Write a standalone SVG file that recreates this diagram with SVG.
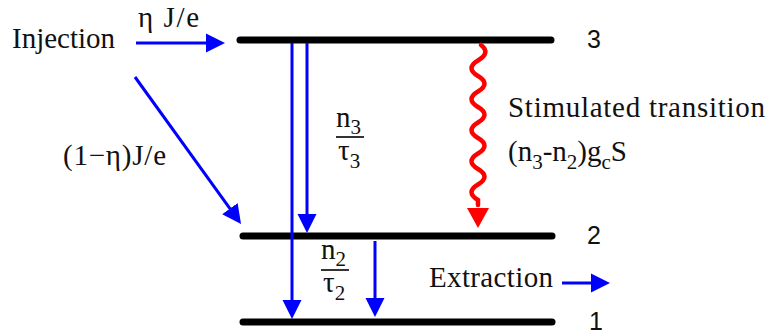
<svg xmlns="http://www.w3.org/2000/svg" width="769" height="334" viewBox="0 0 769 334">
<style>
.t{font-family:"Liberation Serif","Times New Roman",serif;font-size:29px;fill:#111}
.s{font-size:21px}
.lab{font-family:"Liberation Sans",Arial,sans-serif;font-size:25px;fill:#111}
.lvl{stroke:#000;stroke-width:7;stroke-linecap:round;fill:none}
.b{stroke:#0000ff;stroke-width:3;fill:none}
.bar{stroke:#000;stroke-width:1.6}
</style>
<defs>
<marker id="ab" markerUnits="userSpaceOnUse" markerWidth="20" markerHeight="22" viewBox="-1 -10 20 20" refX="0" refY="0" orient="auto">
<path d="M-1,-9.5 L18,0 L-1,9.5 z" fill="#0000ff"/>
</marker>
</defs>
<rect width="769" height="334" fill="#fff"/>
<g id="level3"><line class="lvl" x1="240" y1="40" x2="551" y2="40"/><text class="lab" x="587" y="48">3</text></g>
<g id="level2"><line class="lvl" x1="243" y1="236" x2="552" y2="236"/><text class="lab" x="587" y="244">2</text></g>
<g id="level1"><line class="lvl" x1="243" y1="322" x2="552" y2="322"/><text class="lab" x="589" y="330">1</text></g>
<g id="injection"><text class="t" x="12" y="48">Injection</text></g>
<g id="extraction"><text class="t" x="429" y="287" textLength="124">Extraction</text></g>
<g id="stimulated"><text class="t" x="508" y="117" textLength="257">Stimulated transition</text>
<text class="t" x="508" y="161">(n<tspan class="s" dy="8">3</tspan><tspan dy="-8">-n</tspan><tspan class="s" dy="8">2</tspan><tspan dy="-8">)g</tspan><tspan class="s" dy="8">c</tspan><tspan dy="-8">S</tspan></text></g>
<g id="rate3"><text class="t" x="336" y="127">n<tspan class="s" dy="7">3</tspan></text>
<line class="bar" x1="336" y1="137" x2="364" y2="137"/>
<text class="t" x="338" y="160">τ<tspan class="s" dy="8">3</tspan></text></g>
<g id="rate2"><text class="t" x="321" y="259">n<tspan class="s" dy="7">2</tspan></text>
<line class="bar" x1="321" y1="270" x2="349" y2="270"/>
<text class="t" x="323" y="292">τ<tspan class="s" dy="8">2</tspan></text></g>
<g id="labels"><text class="t" x="138" y="27" textLength="61">η J/e</text>
<text class="t" x="63" y="165" textLength="103">(1−η)J/e</text></g>
<g id="connectors">
<line class="b" x1="136" y1="43" x2="207" y2="43" marker-end="url(#ab)"/>
<line class="b" x1="135" y1="77" x2="230.5" y2="209.4" marker-end="url(#ab)"/>
<line class="b" x1="292" y1="43" x2="292" y2="301" marker-end="url(#ab)"/>
<line class="b" x1="307" y1="43" x2="307" y2="215" marker-end="url(#ab)"/>
<line class="b" x1="375" y1="241" x2="375" y2="299" marker-end="url(#ab)"/>
<line class="b" x1="562" y1="283" x2="592" y2="283" marker-end="url(#ab)"/>
<path d="M481,45 q10,7.75 -3,15.5 t0,15.5 t0,15.5 t0,15.5 t0,15.5 t0,15.5 t0,15.5 t0,15.5 t0,15.5 t0,15.5 l0,5" fill="none" stroke="#ff0000" stroke-width="4.5" stroke-linecap="round"/>
<path d="M467,208 L489,208 L478,228 z" fill="#ff0000"/>
</g>
</svg>
